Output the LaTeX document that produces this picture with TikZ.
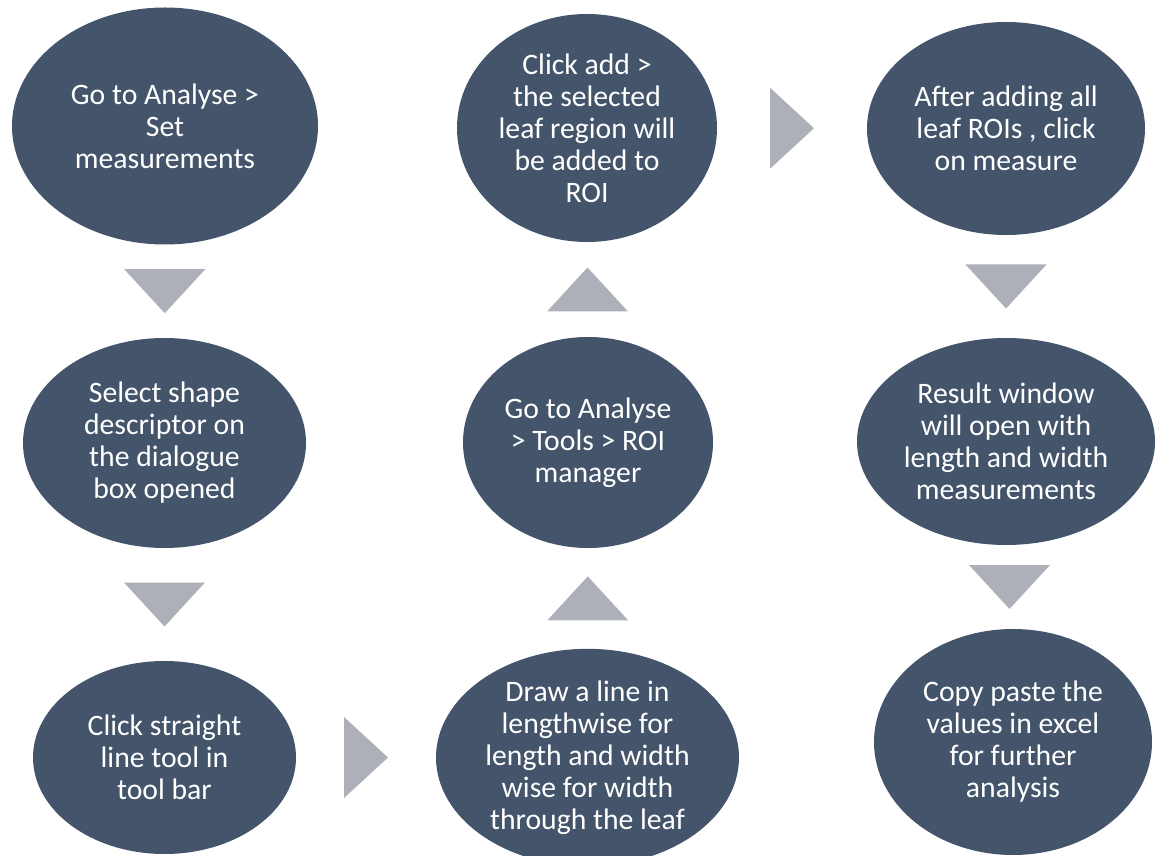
\documentclass[tikz,border=0pt]{standalone}
\usepackage{fontspec}
\setmainfont{Carlito}
\usetikzlibrary{shapes.geometric}
\usetikzlibrary{calc}
\definecolor{slate}{HTML}{44546A}
\definecolor{chevgray}{HTML}{ADB0B8}
\tikzset{stepnode/.style={ellipse, fill=slate, text=white, inner sep=0pt, align=center, font=\fontsize{29.7}{32}\selectfont}}
\tikzset{chev/.style={fill=chevgray}}

\begin{document}
\begin{tikzpicture}[x=1pt, y=1pt]
    \useasboundingbox(0, 0)rectangle(1156, 855);
    % first column, going down
    \node[stepnode, minimum width=306, minimum height=237](analyse)at(165, 729){Go to Analyse >\\Set\\measurements};
    \node[stepnode, minimum width=283, minimum height=210](shape)at(164.5, 412){Select shape\\descriptor on\\the dialogue\\box opened};
    \node[stepnode, minimum width=263, minimum height=193](straight)at(164.5, 97.5){Click straight\\line tool in\\tool bar};
    % second column, going up
    \node[stepnode, minimum width=303, minimum height=191](drawline)at(587.5, 97.5){Draw a line in\\lengthwise for\\length and width\\wise for width\\through the leaf};
    \node[stepnode, minimum width=250, minimum height=211](roimgr)at(588, 412.5){Go to Analyse\\> Tools > ROI\\manager};
    \node[stepnode, minimum width=260, minimum height=228](addroi)at(587, 727){Click add >\\the selected\\leaf region will\\be added to\\ROI};
    % third column, going down
    \node[stepnode, minimum width=278, minimum height=213](measure)at(1006, 726.5){After adding all\\leaf ROIs , click\\on measure};
    \node[stepnode, minimum width=298, minimum height=207](result)at(1006, 413.5){Result window\\will open with\\length and width\\measurements};
    \node[stepnode, minimum width=278, minimum height=226](excel)at(1013, 113){Copy paste the\\values in excel\\for further\\analysis};
    % triangle arrows
    \fill[chev]($(analyse.south)!.5!(shape.north)$)+(-40.5, 22)--+(40.5, 22)--+(0, -22)--cycle;
    \fill[chev]($(shape.south)!.5!(straight.north)$)+(-40.5, 22)--+(40.5, 22)--+(0, -22)--cycle;
    \fill[chev]($(straight.east)!.5!(drawline.west)$)+(-22, 40.5)--+(-22, -40.5)--+(22, 0)--cycle;
    \fill[chev]($(drawline.north)!.5!(roimgr.south)$)+(-40.5, -22)--+(40.5, -22)--+(0, 22)--cycle;
    \fill[chev]($(roimgr.north)!.5!(addroi.south)$)+(-40.5, -22)--+(40.5, -22)--+(0, 22)--cycle;
    \fill[chev]($(addroi.east)!.5!(measure.west)$)+(-22, 40.5)--+(-22, -40.5)--+(22, 0)--cycle;
    \fill[chev]($(measure.south)!.5!(result.north)$)+(-40.5, 22)--+(40.5, 22)--+(0, -22)--cycle;
    \fill[chev]($(result.south)!.5!(excel.north)$)+(-40.5, 22)--+(40.5, 22)--+(0, -22)--cycle;
\end{tikzpicture}
\end{document}
